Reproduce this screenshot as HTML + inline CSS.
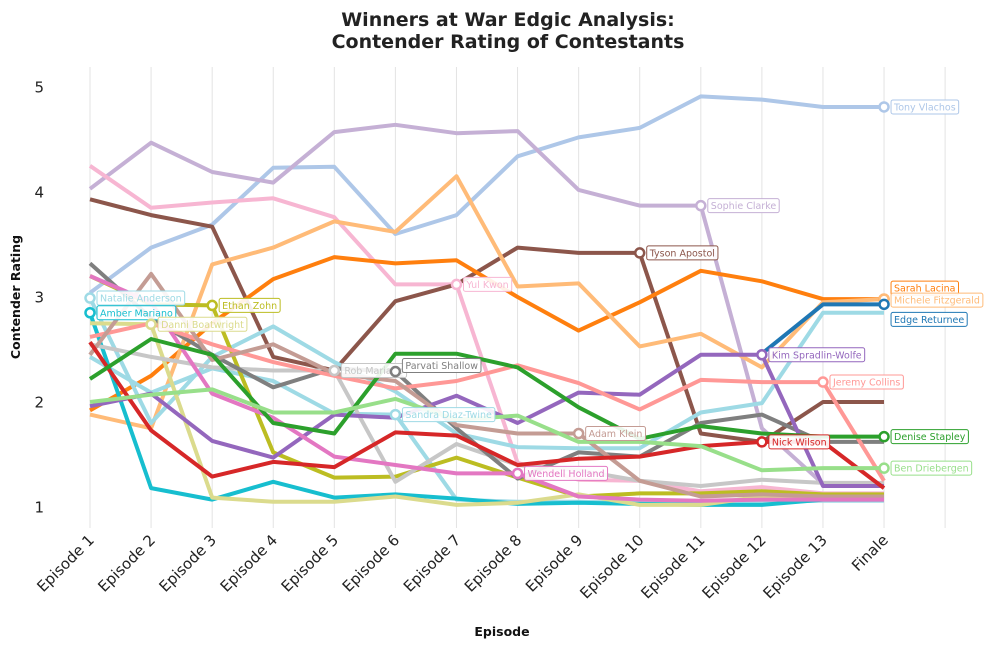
<!DOCTYPE html>
<html><head><meta charset="utf-8">
<style>
html,body{margin:0;padding:0;background:#fff;}
svg{display:block;font-family:"DejaVu Sans","Liberation Sans",sans-serif;}
</style></head>
<body>
<svg id="chart" width="992" height="648" viewBox="0 0 992 648" xmlns="http://www.w3.org/2000/svg">
<text x="508" y="26" text-anchor="middle" font-size="19" font-weight="bold" fill="#222">Winners at War Edgic Analysis:</text>
<text x="508" y="48" text-anchor="middle" font-size="19" font-weight="bold" fill="#222">Contender Rating of Contestants</text>
<text x="502" y="636" text-anchor="middle" font-size="12.5" font-weight="bold" fill="#111">Episode</text>
<text transform="translate(20,297) rotate(-90)" text-anchor="middle" font-size="12.5" font-weight="bold" fill="#111">Contender Rating</text>
<g id="grid"></g><g id="yticks"></g><g id="xticks"></g><g id="lines"></g><g id="markers"></g>
</svg>
<script>
const categories = ["Episode 1","Episode 2","Episode 3","Episode 4","Episode 5","Episode 6","Episode 7","Episode 8","Episode 9","Episode 10","Episode 11","Episode 12","Episode 13","Finale"];
const yTicks = [1,2,3,4,5];
const names = ["Tony Vlachos","Sophie Clarke","Yul Kwon","Tyson Apostol","Sarah Lacina","Michele Fitzgerald","Edge Returnee","Natalie Anderson","Sandra Diaz-Twine","Amber Mariano","Ethan Zohn","Danni Boatwright","Rob Mariano","Parvati Shallow","Kim Spradlin-Wolfe","Jeremy Collins","Adam Klein","Wendell Holland","Nick Wilson","Denise Stapley","Ben Driebergen"];
const colors = ["#aec7e8","#c5b0d5","#f7b6d2","#8c564b","#ff7f0e","#ffbb78","#1f77b4","#9edae5","#9edae5","#17becf","#bcbd22","#dbdb8d","#c7c7c7","#7f7f7f","#9467bd","#ff9896","#c49c94","#e377c2","#d62728","#2ca02c","#98df8a"];
const tony    = [3.04,3.47,3.69,4.23,4.24,3.6,3.78,4.34,4.52,4.61,4.91,4.88,4.81,4.81];
const sophie  = [4.03,4.47,4.19,4.09,4.57,4.64,4.56,4.58,4.02,3.87,3.87,1.75,1.22,1.22];
const yul     = [4.25,3.85,3.9,3.94,3.76,3.12,3.12,1.42,1.26,1.25,1.15,1.19,1.13,1.13];
const tyson   = [3.93,3.78,3.67,2.43,2.3,2.96,3.12,3.47,3.42,3.42,1.7,1.62,2.0,2.0];
const sarah   = [1.92,2.25,2.75,3.17,3.38,3.32,3.35,3.0,2.68,2.95,3.25,3.15,2.98,2.98];
const michele = [1.88,1.75,3.31,3.47,3.72,3.62,4.15,3.1,3.13,2.53,2.65,2.33,2.95,2.98];
const edge    = [null,null,null,null,null,null,null,null,null,null,null,2.46,2.93,2.93];
const natalie = [2.99,1.8,2.43,2.72,2.38,2.1,1.7,1.57,1.56,1.56,1.9,1.99,2.85,2.85];
const sandra  = [2.43,2.09,2.32,2.2,1.89,1.88,1.07,1.05,1.05,1.04,1.04,1.05,1.06,1.06];
const amber   = [2.85,1.18,1.07,1.24,1.09,1.12,1.08,1.03,1.04,1.03,1.02,1.02,1.07,1.07];
const ethan   = [3.2,2.93,2.92,1.52,1.28,1.29,1.47,1.28,1.1,1.13,1.13,1.15,1.12,1.12];
const danni   = [2.75,2.74,1.09,1.05,1.05,1.1,1.02,1.04,1.12,1.02,1.02,1.1,1.1,1.1];
const rob     = [2.55,2.43,2.33,2.3,2.3,1.24,1.6,1.4,1.35,1.25,1.2,1.26,1.23,1.23];
const parvati = [3.32,2.8,2.45,2.14,2.32,2.29,1.75,1.27,1.52,1.48,1.8,1.88,1.62,1.62];
const kim     = [1.96,2.08,1.63,1.47,1.88,1.85,2.06,1.8,2.09,2.07,2.45,2.45,1.2,1.2];
const jeremy  = [2.62,2.75,2.55,2.38,2.25,2.13,2.2,2.35,2.18,1.93,2.21,2.19,2.19,1.25];
const adam    = [2.45,3.22,2.4,2.55,2.27,2.2,1.78,1.7,1.7,1.25,1.1,1.12,1.1,1.1];
const wendell = [3.2,2.95,2.08,1.85,1.48,1.4,1.32,1.32,1.1,1.07,1.06,1.07,1.07,1.07];
const nick    = [2.57,1.73,1.29,1.43,1.38,1.71,1.68,1.4,1.46,1.48,1.58,1.62,1.62,1.18];
const denise  = [2.22,2.6,2.45,1.8,1.7,2.46,2.46,2.33,1.95,1.65,1.77,1.7,1.67,1.67];
const ben     = [2.0,2.07,2.12,1.9,1.9,2.03,1.83,1.87,1.62,1.62,1.58,1.35,1.37,1.37];
const series = [tony,sophie,yul,tyson,sarah,michele,edge,natalie,sandra,amber,ethan,danni,rob,parvati,kim,jeremy,adam,wendell,nick,denise,ben];
const markerEpisode = [13,10,6,9,13,13,13,0,5,0,2,1,4,5,11,12,8,7,11,13,13];
const labelShift = [0,0,0,0,-11,1,15,0,0,0,0,0,0,-6,0,0,0,0,0,0,0];

const NS="http://www.w3.org/2000/svg";
const X0=90, DX=61.08, Y0=507, DY=105;
function xs(i){return X0+i*DX;}
function ys(v){return Y0-(v-1)*DY;}
function mk(tag,attrs,parent){const e=document.createElementNS(NS,tag);for(const k in attrs)e.setAttribute(k,attrs[k]);parent.appendChild(e);return e;}

const grid=document.getElementById('grid');
for(let i=0;i<=categories.length;i++){
  const l=mk('line',{x1:xs(i),x2:xs(i),y1:67,y2:528,stroke:'#e3e3e3','stroke-width':1},grid);
  
  
}
const yt=document.getElementById('yticks');
yTicks.forEach(v=>{
  const t=mk('text',{x:44,y:ys(v)+5.5,'text-anchor':'end','font-size':15,fill:'#222'},yt);
  t.textContent=v;
  
  
});
const xt=document.getElementById('xticks');
categories.forEach((c,i)=>{
  const t=mk('text',{transform:`translate(${xs(i)+5},${541}) rotate(-45)`,'text-anchor':'end','font-size':15,fill:'#222'},xt);
  t.textContent=c;
  
  
});
const lg=document.getElementById('lines');
const mg=document.getElementById('markers');
series.forEach((s,k)=>{
  let d='';
  s.forEach((v,i)=>{ if(v==null) return; d+=(d?'L':'M')+xs(i).toFixed(1)+','+ys(v).toFixed(1); });
  const p=mk('path',{d:d,fill:'none',stroke:colors[k],'stroke-width':4,'stroke-linejoin':'round'},lg);
  
  
});
series.forEach((s,k)=>{
  const i=markerEpisode[k], v=s[i];
  const cx=xs(i), cy=ys(v);
  const c=mk('circle',{cx:cx,cy:cy,r:4.5,fill:'#fff',stroke:colors[k],'stroke-width':2.5},mg);
  
  
  const g=mk('g',{},mg);
  
  
  const ly=cy+labelShift[k];
  const rect=mk('rect',{x:cx+7,y:ly-7,height:14,rx:2,fill:'#fff','fill-opacity':0.9,stroke:colors[k],'stroke-width':1},g);
  const t=mk('text',{x:cx+10,y:ly+3.5,'font-size':9.5,fill:colors[k]},g);
  t.textContent=names[k];
  const w=t.getComputedTextLength();
  rect.setAttribute('width',w+6);
});
</script>
</body></html>
